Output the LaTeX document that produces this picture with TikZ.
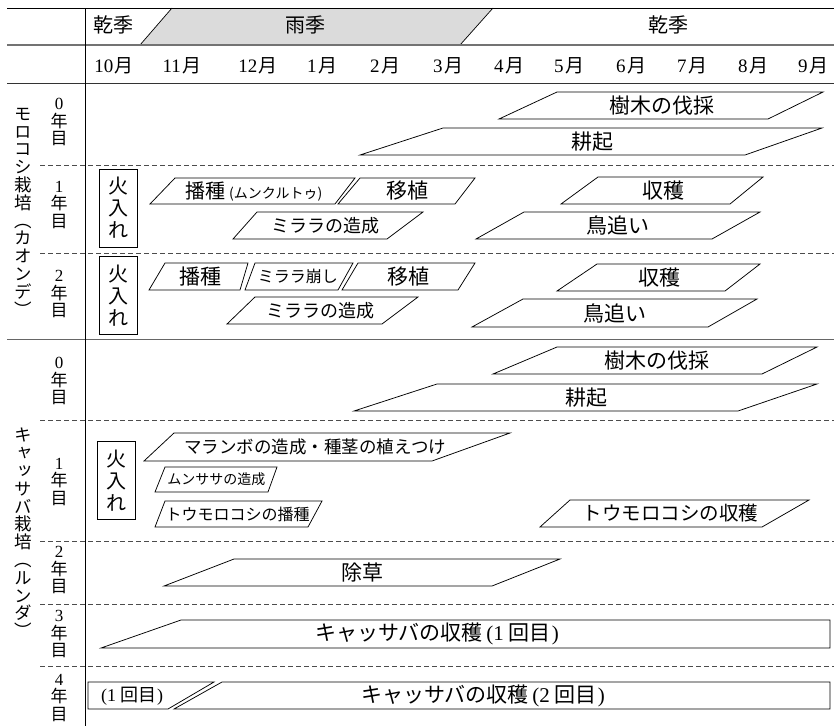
\documentclass[tikz,border=0pt]{standalone}
\usepackage{fontspec}
\setmainfont{Liberation Serif}
\newfontfamily\jp{Noto Sans CJK JP}
\newfontfamily\jpv[RawFeature=+vert]{Noto Sans CJK JP}
\newcommand\fz[1]{\fontsize{#1}{#1}\selectfont}
\tikzset{
  box/.style={draw=black, line width=0.75pt, fill=white},
  lbl/.style={font=\jp, inner sep=0pt},
  dline/.style={draw=black!70, line width=0.8pt, dash pattern=on 5pt off 3pt},
  yrlbl/.style={inner sep=0pt, align=center, font=\fontsize{17}{17.5}\selectfont},
  fire/.style={draw=black, line width=0.75pt, minimum width=38pt, minimum height=78pt, inner sep=0pt, align=center, font=\jp\fontsize{20}{22}\selectfont},
  side/.style={inner sep=0pt, align=center, font=\jpv\fontsize{17.5}{17.8}\selectfont},
}
% parallelogram: name, TLx, TRx, BRx, BLx, ytop, ybot, text
\newcommand\pg[8]{%
  \draw[box] (#2,#6) -- (#3,#6) -- (#4,#7) -- (#5,#7) -- cycle;
  \node[lbl] (#1) at ({(#2+#3+#4+#5)/4},{(#6+#7)/2}) {#8};
}
\newcommand\mon[2]{\node[inner sep=0pt, font=\fz{19}] (m#1) at (#2,66) {#1\hspace{1.5pt}{\jp 月}};}
\begin{document}
\begin{tikzpicture}[x=1pt,y=-1pt]
\useasboundingbox (0,0) rectangle (834,726);
% header season band
\fill[gray!28] (172,8) -- (493,8) -- (460,45) -- (140,45) -- cycle;
\draw[line width=0.7pt] (140,45) -- (172,8);
\draw[line width=0.7pt] (460,45) -- (493,8);
% rule lines
\draw[line width=0.9pt] (7,8) -- (834,8);
\draw[black!55, line width=1.6pt] (7,45) -- (834,45);
\draw[black!80, double, double distance=0.8pt, line width=0.6pt] (7,84) -- (834,84);
\draw[black!60, double, double distance=0.9pt, line width=0.7pt] (7,340) -- (834,340);
\draw[line width=0.9pt] (85,8) -- (85,726);
\foreach \yy in {165,253,420,541,604,666} {\draw[dline] (40,\yy) -- (834,\yy);}
% season labels
\node[lbl, font=\jp\fz{20}] (s1) at (113,25) {乾季};
\node[lbl, font=\jp\fz{20}] (s2) at (305,25) {雨季};
\node[lbl, font=\jp\fz{20}] (s3) at (668,25) {乾季};
% months
\mon{10}{114}
\mon{11}{182}
\mon{12}{258}
\mon{1}{322}
\mon{2}{385}
\mon{3}{448}
\mon{4}{509}
\mon{5}{569}
\mon{6}{631}
\mon{7}{692}
\mon{8}{753}
\mon{9}{813}
% side labels
\node[side] (L1) at (23,212) {モ\\ロ\\コ\\シ\\栽\\培\\︵\\カ\\オ\\ン\\デ\\︶};
\node[side] (L2) at (23,533) {キ\\ャ\\ッ\\サ\\バ\\栽\\培\\︵\\ル\\ン\\ダ\\︶};
% year labels
\node[yrlbl] (ya0) at (59,122) {0\\{\jp 年}\\{\jp 目}};
\node[yrlbl] (ya1) at (59,205) {1\\{\jp 年}\\{\jp 目}};
\node[yrlbl] (ya2) at (59,294) {2\\{\jp 年}\\{\jp 目}};
\node[yrlbl] (yb0) at (59,381) {0\\{\jp 年}\\{\jp 目}};
\node[yrlbl] (yb1) at (59,482) {1\\{\jp 年}\\{\jp 目}};
\node[yrlbl] (yb2) at (59,570) {2\\{\jp 年}\\{\jp 目}};
\node[yrlbl] (yb3) at (59,634) {3\\{\jp 年}\\{\jp 目}};
\node[yrlbl] (yb4) at (59,698) {4\\{\jp 年}\\{\jp 目}};
% fire boxes
\node[fire] (h1) at (118,208) {火\\入\\れ};
\node[fire] (h2) at (118,295.5) {火\\入\\れ};
\node[fire] (h3) at (116,480.5) {火\\入\\れ};
% section 1, year 0
\pg{a1}{557}{823}{768}{499}{92}{119}{\fz{21}樹木の伐採}
\pg{a2}{443}{822}{745}{360}{128}{155}{\fz{21}耕起}
% section 1, year 1
\pg{b1}{175}{355}{335}{150}{178}{204}{{\fz{20}播種}\hspace{4pt}{\fz{14}(ムンクルトゥ)}}
\pg{b2}{360}{475}{455}{338}{178}{204}{\fz{21}移植}
\pg{b3}{257}{423}{387}{233}{212}{239}{\fz{18}ミララの造成}
\pg{b4}{598}{763}{730}{561}{177}{204}{\fz{21}収穫}
\pg{b5}{524}{760}{712}{476}{212}{239}{\fz{21}鳥追い}
% section 1, year 2
\pg{c1}{165}{248}{240}{149}{263}{290}{\fz{21}播種}
\pg{c2}{255}{353}{338}{245}{263}{290}{\fz{16}ミララ崩し}
\pg{c3}{358}{475}{458}{342}{263}{290}{\fz{21}移植}
\pg{c4}{255}{418}{382}{227}{297}{324}{\fz{18}ミララの造成}
\pg{c5}{597}{760}{725}{557}{264}{291}{\fz{21}収穫}
\pg{c6}{523}{757}{708}{472}{299}{327}{\fz{21}鳥追い}
% section 2, year 0
\pg{d1}{557}{817}{762}{493}{347}{374}{\fz{21}樹木の伐採}
\pg{d2}{437}{817}{738}{354}{384}{411}{\fz{21}耕起}
% section 2, year 1
\pg{e1}{174}{510}{432}{144}{433}{461}{\fz{17.5}マランボの造成・種茎の植えつけ}
\pg{e2}{165}{277}{268}{155}{467}{492}{\fz{14}ムンササの造成}
\pg{e3}{165}{322}{308}{155}{501}{527}{\fz{16}トウモロコシの播種}
\pg{e4}{570}{809}{762}{540}{500}{527}{\fz{19.5}トウモロコシの収穫}
% section 2, year 2
\pg{f1}{234}{560}{492}{164}{559}{586}{\fz{21}除草}
% section 2, year 3
\draw[box] (181,620) -- (830,620) -- (830,648) -- (101,648) -- cycle;
\node[lbl] (g1) at (437,634) {\fz{21}キャッサバの収穫\hspace{4pt}{\rmfamily(1}\hspace{5pt}回目{\rmfamily\hspace{1pt})}};
% section 2, year 4
\draw[box] (88,682) -- (214,682) -- (168,709) -- (88,709) -- cycle;
\node[lbl] (k1) at (132,696) {\fz{18}{\rmfamily(1}\hspace{4pt}回目{\rmfamily\hspace{1pt})}};
\draw[box] (222,682) -- (830,682) -- (830,709) -- (174,709) -- cycle;
\node[lbl] (k2) at (483,696) {\fz{21}キャッサバの収穫\hspace{4pt}{\rmfamily(2}\hspace{5pt}回目{\rmfamily\hspace{1pt})}};
\end{tikzpicture}
\end{document}
